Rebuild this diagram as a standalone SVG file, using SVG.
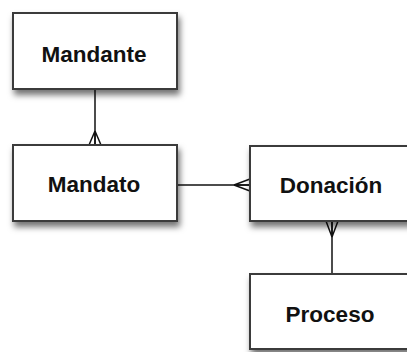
<svg xmlns="http://www.w3.org/2000/svg" width="407" height="352" viewBox="0 0 407 352">
<defs>
<filter id="sh" x="-20%" y="-20%" width="150%" height="160%">
<feDropShadow dx="2" dy="5" stdDeviation="3" flood-color="#000" flood-opacity="0.55"/>
</filter>
<style>
.box{fill:#fff;stroke:#3a3a3a;stroke-width:2;filter:url(#sh)}
.lbl{font-family:"Liberation Sans",Arial,sans-serif;font-weight:bold;font-size:22.5px;fill:#111;text-anchor:middle}
.ln{stroke:#111;stroke-width:1.5;fill:none}
</style>
</defs>
<rect width="407" height="352" fill="#fff"/>
<g id="connectors">
<path class="ln" d="M95 89 V145"/>
<path class="ln" d="M95 131 L89 145 M95 131 V145 M95 131 L101 145"/>
<path class="ln" d="M177 185 H250"/>
<path class="ln" d="M234 185 L250 179 M234 185 H250 M234 185 L250 191"/>
<path class="ln" d="M332 221 V274"/>
<path class="ln" d="M332 237 L326 221 M332 237 V221 M332 237 L338 221"/>
</g>
<g id="mandante">
<rect class="box" x="13" y="13" width="164" height="76"/>
<text class="lbl" x="94" y="62">Mandante</text>
</g>
<g id="mandato">
<rect class="box" x="13" y="145" width="164" height="76"/>
<text class="lbl" x="94" y="192">Mandato</text>
</g>
<g id="donacion">
<rect class="box" x="250" y="146" width="164" height="75"/>
<text class="lbl" x="331" y="193">Donación</text>
</g>
<g id="proceso">
<rect class="box" x="250" y="274" width="164" height="75"/>
<text class="lbl" x="330" y="322">Proceso</text>
</g>
</svg>
